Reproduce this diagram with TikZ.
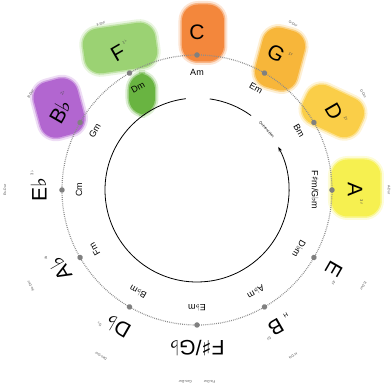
\documentclass[tikz,border=0pt]{standalone}
\usepackage{fontspec}
\setmainfont{Liberation Sans}
\newfontfamily\symfont{DejaVu Sans}
\newcommand{\sh}{{\symfont ♯}}
\newcommand{\fl}{{\symfont ♭}}
\usetikzlibrary{arrows.meta}

\definecolor{blobC}{RGB}{243,135,60}
\definecolor{blobG}{RGB}{247,182,58}
\definecolor{blobD}{RGB}{250,206,72}
\definecolor{blobA}{RGB}{246,240,80}
\definecolor{blobF}{RGB}{155,210,115}
\definecolor{blobDm}{RGB}{105,180,65}
\definecolor{blobBb}{RGB}{178,102,208}

\begin{document}
\begin{tikzpicture}[
  x=1pt,y=1pt,
  >={Stealth[length=5pt,width=3.5pt]},
  blob/.style={fill=#1,rounded corners=16pt,inner sep=0pt,
    preaction={draw=#1,line width=7pt,draw opacity=0.22,rounded corners=16pt},
    draw=#1,draw opacity=0.5,line width=3pt},
  keyname/.style={font=\fontsize{21}{21}\selectfont,inner sep=0pt},
  minorname/.style={font=\fontsize{9}{9}\selectfont,inner sep=0pt},
  sig/.style={font=\fontsize{4}{4}\selectfont,inner sep=0.5pt,text=gray!60!black},
  durname/.style={font=\fontsize{3.5}{4}\selectfont,inner sep=0pt,text=gray!60!black},
  dot/.style={circle,fill=black!50,inner sep=0pt,minimum size=5.5pt}
]
\useasboundingbox (-197,-193) rectangle (195,190);

% coloured keys
\node[blob=blobC,minimum width=42,minimum height=57] (bC) at (6,157) {};
\node[blob=blobG,minimum width=43,minimum height=61,rotate=-15] (bG) at (83,131) {};
\node[blob=blobD,minimum width=61,minimum height=41,rotate=-25] (bD) at (136,79) {};
\node[blob=blobA,minimum width=49,minimum height=57] (bA) at (159,2) {};
\node[blob=blobF,minimum width=73,minimum height=45,rotate=8] (bF) at (-77,142) {};
\node[blob=blobDm,minimum width=26,minimum height=41] (bDm) at (-55,96) {};
\node[blob=blobBb,minimum width=45,minimum height=57,rotate=15] (bBb) at (-138,82) {};

% circles
\draw[black!45,line width=1.2pt,dash pattern=on 0.8pt off 1.1pt] (0,0) circle (135);
\draw[->,line width=0.8pt] (97:92) arc[start angle=97,end angle=388,radius=92];
\draw[line width=0.8pt] (54:92) arc[start angle=54,end angle=82,radius=92];
\node[durname,rotate=-49,text=black] (quint) at (41:92) {Quintenzirkel};

\foreach \t/\k/\m/\s/\n [count=\i] in {
  0/C/Am/{}/{},
  30/G/Em/{1\sh}/{G-Dur},
  60/D/Bm/{2\sh}/{D-Dur},
  90/A/{F\sh m/G\fl m}/{3\sh}/{A-Dur},
  120/E/{D\fl m}/{4\sh}/{E-Dur},
  150/B/{A\fl m}/{5\sh}/{H-Dur},
  180/{F\sh/G\fl}/{E\fl m}/{}/{Fis-Dur\hspace{12pt}Ges-Dur},
  210/{D\fl}/{B\fl m}/{5\fl}/{Des-Dur},
  240/{A\fl}/Fm/{4\fl}/{As-Dur},
  270/{E\fl}/Cm/{3\fl}/{Es-Dur},
  300/{B\fl}/Gm/{2\fl}/{B-Dur},
  330/F/Dm/{1\fl}/{F-Dur}}
{
  \begin{scope}[rotate=-\t,transform shape]
    \node[dot] (dot\i) at (0,135) {};
    \node[keyname] (key\i) at (0,158) {\k};
    \node[sig,anchor=south west,xshift=2pt,yshift=-3pt] (sig\i) at (key\i.north east) {\s};
    \node[durname] (dur\i) at (0,192) {\n};
    \node[minorname] (min\i) at (0,118) {\m};
  \end{scope}
}
\begin{scope}[rotate=-150,transform shape]
  \node[font=\fontsize{6}{6}\selectfont,inner sep=0.5pt,anchor=south east,xshift=-4pt] (hnote) at (key6.south west) {H};
\end{scope}
\end{tikzpicture}
\end{document}
